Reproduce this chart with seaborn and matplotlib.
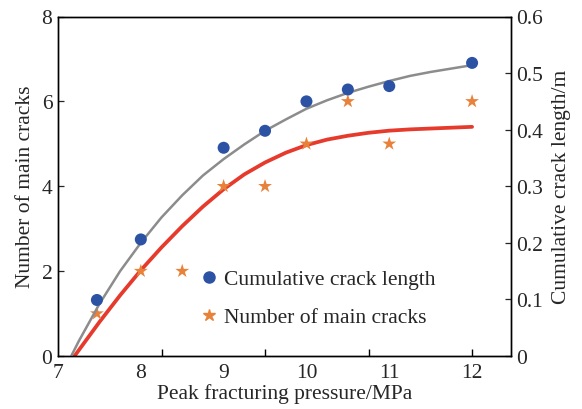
import numpy as np
import pandas as pd
import matplotlib
matplotlib.use("Agg")
import matplotlib.pyplot as plt
import seaborn as sns
from matplotlib.lines import Line2D

# ---- data ----
len_x = [7.47, 8.0, 9.0, 9.5, 10.0, 10.5, 11.0, 12.0]
len_m = [0.099, 0.206, 0.368, 0.398, 0.450, 0.471, 0.477, 0.518]

crack_x = [7.47, 8.0, 8.5, 9.0, 9.5, 10.0, 10.5, 11.0, 12.0]
crack_n = [1, 2, 2, 4, 4, 5, 6, 5, 6]

# fitted trend lines
fit_len_x = [7.16, 7.25, 7.5, 7.75, 8.0, 8.25, 8.5, 8.75, 9.0, 9.25, 9.5, 9.75,
             10.0, 10.25, 10.5, 10.75, 11.0, 11.25, 11.5, 11.75, 12.0]
fit_len_m = [0.0, 0.026, 0.092, 0.150, 0.200, 0.245, 0.284, 0.319, 0.348, 0.374, 0.398, 0.418,
             0.437, 0.452, 0.465, 0.476, 0.486, 0.495, 0.502, 0.508, 0.514]

fit_crack_x = [7.2, 7.5, 7.75, 8.0, 8.25, 8.5, 8.75, 9.0, 9.25, 9.5, 9.75,
               10.0, 10.25, 10.5, 10.75, 11.0, 11.25, 11.5, 11.75, 12.0]
fit_crack_n = [0.0, 0.80, 1.43, 2.02, 2.56, 3.06, 3.52, 3.93, 4.28, 4.56, 4.79,
               4.97, 5.10, 5.19, 5.26, 5.31, 5.34, 5.36, 5.38, 5.40]

x_labels = [7, 8, 9, 10, 11, 12]
x_tick_marks = [8.25, 9.5, 10.75, 12.0]
left_ticks = [0, 2, 4, 6, 8]
right_ticks = [0, 0.1, 0.2, 0.3, 0.4, 0.5, 0.6]
right_labels = ["0", "0.1", "0.2", "0.3", "0.4", "0.5", "0.6"]

sns.set_style("ticks")
plt.rcParams['font.family'] = ['Liberation Serif', 'DejaVu Serif']
FS = 15.5

BLUE = "#2c53a3"
ORANGE = "#e8823a"
GRAY = "#8c8c8c"
RED = "#e63a2c"

fig = plt.figure(figsize=(5.82, 4.10), dpi=100)
ax1 = fig.add_axes([58/582, 53/410, (511-58)/582, (357-17.5)/410])
ax2 = ax1.twinx()

df_len = pd.DataFrame({"x": len_x, "y": len_m})
df_crack = pd.DataFrame({"x": crack_x, "y": crack_n})
df_fl = pd.DataFrame({"x": fit_len_x, "y": fit_len_m})
df_fc = pd.DataFrame({"x": fit_crack_x, "y": fit_crack_n})

sns.lineplot(data=df_fc, x="x", y="y", ax=ax1, color=RED, lw=2.7, sort=False, zorder=2)
sns.scatterplot(data=df_crack, x="x", y="y", ax=ax1, marker="*", s=110, color=ORANGE,
                edgecolor="none", zorder=3)

sns.lineplot(data=df_fl, x="x", y="y", ax=ax2, color=GRAY, lw=1.8, sort=False, zorder=2)
sns.scatterplot(data=df_len, x="x", y="y", ax=ax2, marker="o", s=75, color=BLUE,
                edgecolor="none", zorder=3)

ax1.set_xlim(7, 12.47)
ax1.set_ylim(0, 8)
ax2.set_ylim(0, 0.6)

# tick marks (major, unlabeled) and labels (minor, no mark)
ax1.xaxis.remove_overlapping_locs = False
ax1.set_xticks(x_tick_marks)
ax1.set_xticklabels([""] * len(x_tick_marks))
ax1.tick_params(axis="x", which="major", direction="in", length=5, width=1.0, color="black")
ax1.set_xticks(x_labels, minor=True)
ax1.set_xticklabels([str(v) for v in x_labels], minor=True, fontsize=FS)
ax1.tick_params(axis="x", which="minor", length=0, pad=5)

ax1.set_yticks(left_ticks)
ax1.set_yticklabels([str(v) for v in left_ticks], fontsize=FS)
ax1.tick_params(axis="y", direction="in", length=4, width=0.9, pad=4)

ax2.set_yticks(right_ticks)
ax2.set_yticklabels(right_labels, fontsize=FS)
ax2.tick_params(axis="y", direction="in", length=4, width=0.9, pad=4)

ax1.set_xlabel("Peak fracturing pressure/MPa", fontsize=FS, labelpad=1)
ax1.set_ylabel("Number of main cracks", fontsize=FS, labelpad=5)
ax2.set_ylabel("Cumulative crack length/m", fontsize=FS, labelpad=6)

for ax in (ax1, ax2):
    for s in ax.spines.values():
        s.set_visible(True)
        s.set_linewidth(1.0)
        s.set_color("black")

handles = [
    Line2D([], [], marker="o", ls="none", color=BLUE, markersize=8),
    Line2D([], [], marker="*", ls="none", color=ORANGE, markersize=9),
]
ax1.legend(handles, ["Cumulative crack length", "Number of main cracks"],
           loc="upper left", bbox_to_anchor=(0.318, 0.255), frameon=False,
           fontsize=FS, handlelength=0.6, handletextpad=0.4, labelspacing=0.82,
           borderaxespad=0, borderpad=0)

fig.savefig("out.png", dpi=100)
